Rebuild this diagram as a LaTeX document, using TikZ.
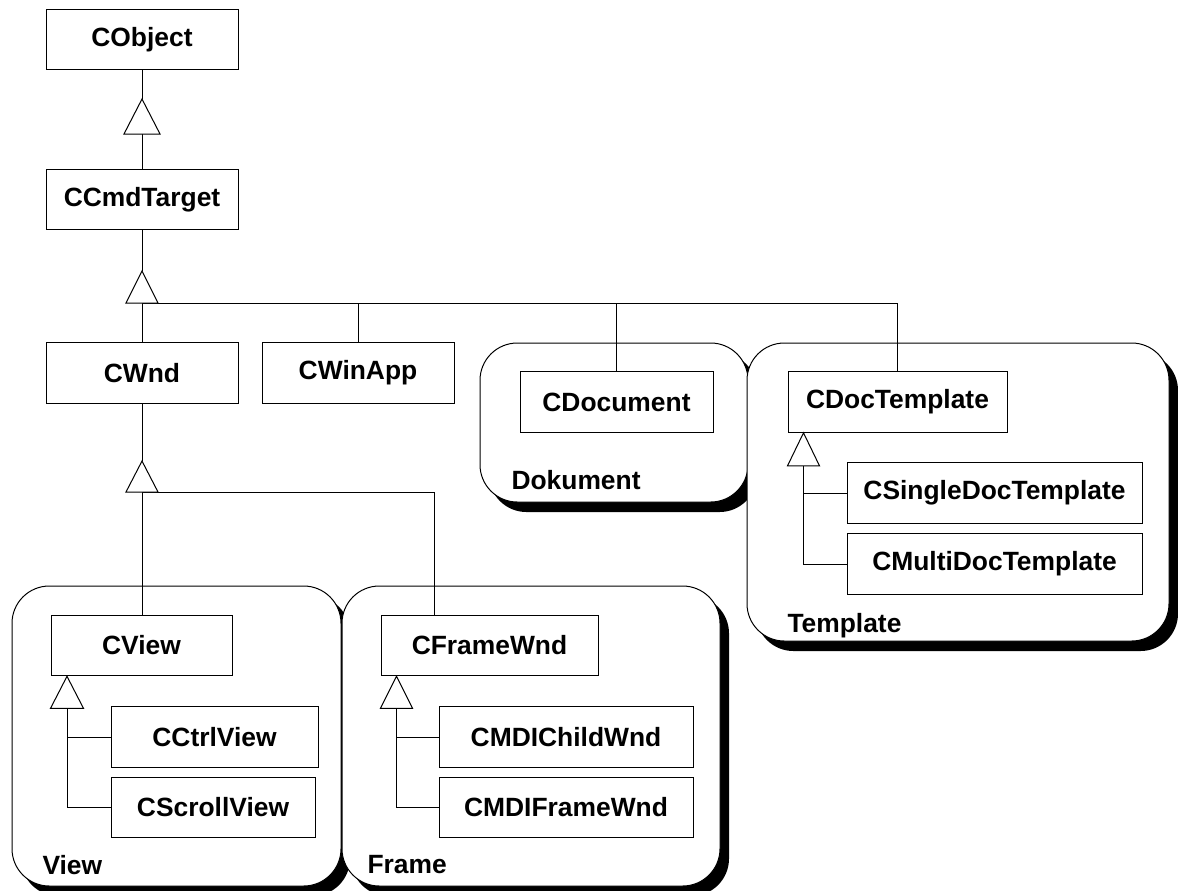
\documentclass[tikz,border=0pt]{standalone}
\usepackage{fontspec}
\setmainfont{Liberation Sans}
\usetikzlibrary{calc,shadows}
% generalization triangle: apex, half width, height
\newcommand\gentri[3]{\draw[tri] (#1) -- ++(-#2,#3) -- ++({2*(#2)},0) -- cycle;}
\begin{document}
\begin{tikzpicture}[x=0.75pt,y=-0.75pt,
  line width=0.75pt,
  font=\fontsize{19.8}{23}\selectfont\bfseries,
  cls/.style={draw, fill=white, inner sep=0pt, minimum height=45.5pt},
  pkg/.style={draw, fill=white, rounded corners=28pt, inner sep=0pt,
    drop shadow={shadow xshift=6.75pt, shadow yshift=-7.5pt, opacity=1, fill=black}},
  pkglabel/.style={anchor=base west, inner sep=0pt},
  tri/.style={draw, fill=white, line join=miter}
]
\useasboundingbox (0,0) rectangle (1178,890);

% packages
\node[pkg, minimum width=246.75pt, minimum height=225pt] (pView) at (176.5,736) {};
\node[pkg, minimum width=283.5pt, minimum height=225pt] (pFrame) at (531,736) {};
\node[pkg, minimum width=201pt, minimum height=119.25pt] (pDoc) at (614,422.5) {};
\node[pkg, minimum width=316.5pt, minimum height=223.5pt] (pTpl) at (958,492) {};

\node[pkglabel] (lView) at (42,874) {View};
\node[pkglabel] (lFrame) at (367,873) {Frame};
\node[pkglabel] (lDoc) at (511,489) {Dokument};
\node[pkglabel] (lTpl) at (787,632) {Template};

% classes
\node[cls, minimum width=144pt] (CObject) at (142,39.5) {CObject};
\node[cls, minimum width=144pt] (CCmdTarget) at (142,199.5) {CCmdTarget};
\node[cls, minimum width=144pt] (CWnd) at (142,373) {CWnd};
\node[cls, minimum width=144pt] (CWinApp) at (358,373) {CWinApp};
\node[cls, minimum width=144.75pt] (CDocument) at (616.5,402) {CDocument};
\node[cls, minimum width=164.25pt] (CDocTemplate) at (897.5,402) {CDocTemplate};
\node[cls, minimum width=221.25pt] (CSingleDocTemplate) at (994.5,493) {CSingleDocTemplate};
\node[cls, minimum width=221.25pt] (CMultiDocTemplate) at (994.5,564) {CMultiDocTemplate};
\node[cls, minimum width=135.75pt] (CView) at (141.5,645.5) {CView};
\node[cls, minimum width=155.25pt] (CCtrlView) at (214.5,737) {CCtrlView};
\node[cls, minimum width=153pt] (CScrollView) at (213,807.5) {CScrollView};
\node[cls, minimum width=162.75pt] (CFrameWnd) at (489.5,645.5) {CFrameWnd};
\node[cls, minimum width=190.5pt] (CMDIChildWnd) at (566,737) {CMDIChildWnd};
\node[cls, minimum width=190.5pt] (CMDIFrameWnd) at (566,807.5) {CMDIFrameWnd};

% CObject <- CCmdTarget
\coordinate (a1) at (142,99);
\coordinate (b1) at (142,134);
\draw (CObject.south) -- (a1);
\draw (b1) -- (CCmdTarget.north);

% CCmdTarget <- CWnd, CWinApp, CDocument, CDocTemplate
\coordinate (a2) at (142,271);
\coordinate (b2) at (142,303);
\draw (CCmdTarget.south) -- (a2);
\draw (b2) -- (CWnd.north);
\draw (b2) -- (b2 -| CDocTemplate.north) -- (CDocTemplate.north);
\draw (b2 -| CWinApp.north) -- (CWinApp.north);
\draw (b2 -| CDocument.north) -- (CDocument.north);

% CWnd <- CView, CFrameWnd
\coordinate (a3) at (142,461);
\coordinate (b3) at (142,492);
\coordinate (k3) at (434,492);
\draw (CWnd.south) -- (a3);
\draw (b3) -- (b3 |- CView.north);
\draw (b3) -- (k3) -- (k3 |- CFrameWnd.north);

% CView <- CCtrlView, CScrollView
\coordinate (a4) at ($(CView.south west)+(16.5,0)$);
\coordinate (b4) at ($(a4)+(0,32)$);
\draw (b4) |- (CCtrlView.west);
\draw (b4) |- (CScrollView.west);

% CFrameWnd <- CMDIChildWnd, CMDIFrameWnd
\coordinate (a5) at ($(CFrameWnd.south west)+(16,0)$);
\coordinate (b5) at ($(a5)+(0,32)$);
\draw (b5) |- (CMDIChildWnd.west);
\draw (b5) |- (CMDIFrameWnd.west);

% CDocTemplate <- CSingleDocTemplate, CMultiDocTemplate
\coordinate (a6) at ($(CDocTemplate.south west)+(16,0)$);
\coordinate (b6) at ($(a6)+(0,33)$);
\draw (b6) |- (CSingleDocTemplate.west);
\draw (b6) |- (CMultiDocTemplate.west);

% generalization heads
\gentri{a1}{18}{35}
\gentri{a2}{16}{32}
\gentri{a3}{16}{31}
\gentri{a4}{16.5}{32}
\gentri{a5}{16}{32}
\gentri{a6}{16}{33}
\end{tikzpicture}
\end{document}
